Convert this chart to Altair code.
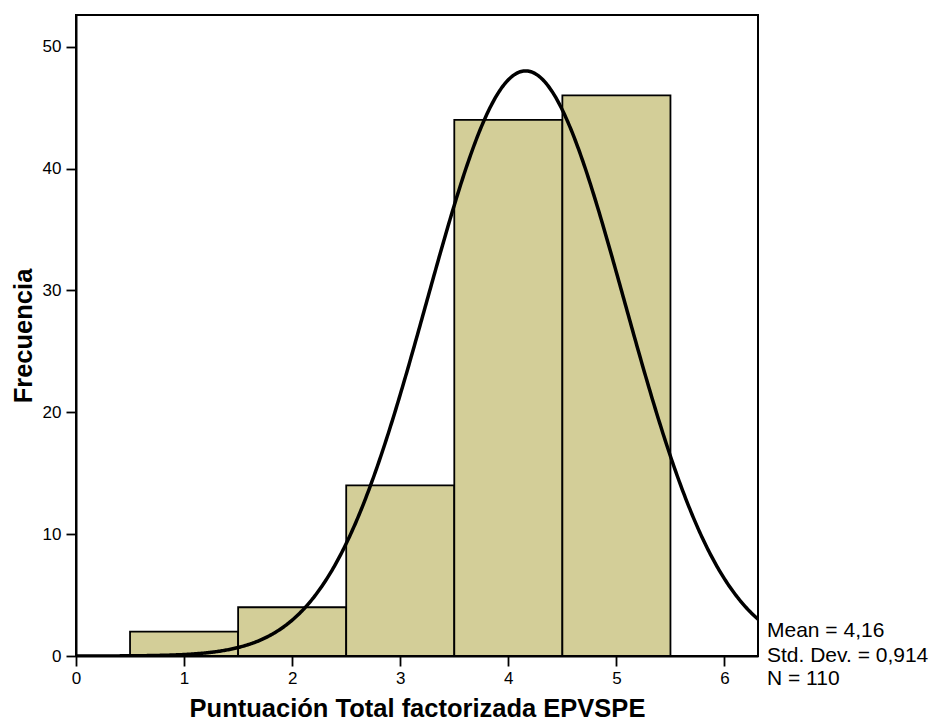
import altair as alt
import pandas as pd

# Histogram data
bin_start = [0.5, 1.5, 2.5, 3.5, 4.5]
bin_end = [1.5, 2.5, 3.5, 4.5, 5.5]
counts = [2, 4, 14, 44, 46]

# Summary statistics shown on the chart
mean_val = 4.16
sd_val = 0.914
n_val = 110
bin_width = 1.0

x_ticks = [0, 1, 2, 3, 4, 5, 6]
y_ticks = [0, 10, 20, 30, 40, 50]
stats_lines = ["Mean = 4,16", "Std. Dev. = 0,914", "N = 110"]

X_MAX = 6.31
Y_MAX = 52.6
FONT = "Liberation Sans"
W, H = 682, 641

bars_df = pd.DataFrame({"x0": bin_start, "x1": bin_end, "count": counts})

xscale = alt.Scale(domain=[0, X_MAX], nice=False, zero=False)
yscale = alt.Scale(domain=[0, Y_MAX], nice=False)

bars = alt.Chart(bars_df).mark_rect(
    fill="#d3ce98", stroke="black", strokeWidth=1.8
).encode(
    x=alt.X("x0:Q", scale=xscale,
            axis=alt.Axis(title="Puntuación Total factorizada EPVSPE", values=x_ticks,
                          format="d", grid=False, labelFlush=False,
                          labelFontSize=17, labelFont=FONT, labelPadding=4,
                          titlePadding=10)),
    x2="x1:Q",
    y=alt.Y("count:Q", scale=yscale,
            axis=alt.Axis(title="Frecuencia", values=y_ticks, grid=False, labelFlush=False,
                          labelFontSize=17, labelFont=FONT, labelPadding=5,
                          titlePadding=6)),
    y2=alt.datum(0),
)

curve = alt.Chart(alt.sequence(0, X_MAX + 0.005, 0.01, as_="x")).transform_calculate(
    dens=f"{n_val * bin_width} * densityNormal(datum.x, {mean_val}, {sd_val})"
).mark_line(color="black", strokeWidth=3.5, clip=True).encode(
    x=alt.X("x:Q", scale=xscale),
    y=alt.Y("dens:Q", scale=yscale),
)

layers = [bars, curve]
line_y = [616, 641, 664]
for txt, yy in zip(stats_lines, line_y):
    layers.append(
        alt.Chart(pd.DataFrame({"label": [txt]})).mark_text(
            align="left", baseline="middle", fontSize=21, font=FONT, color="black"
        ).encode(x=alt.value(W + 9), y=alt.value(yy), text="label:N")
    )

chart = alt.layer(*layers).properties(
    width=W, height=H,
    padding={"left": 76, "top": 15, "right": 174, "bottom": 66},
    autosize=alt.AutoSizeParams(type="none"),
).configure_view(
    stroke="black", strokeWidth=2
).configure_axis(
    domainColor="black", domainWidth=2, tickColor="black", tickWidth=1.8,
    tickSize=10, labelColor="black",
    titleFont=FONT, titleFontSize=25.5, titleFontWeight="bold", titleColor="black",
)

chart.save("out.html", embed_options={"renderer": "svg", "actions": False})
